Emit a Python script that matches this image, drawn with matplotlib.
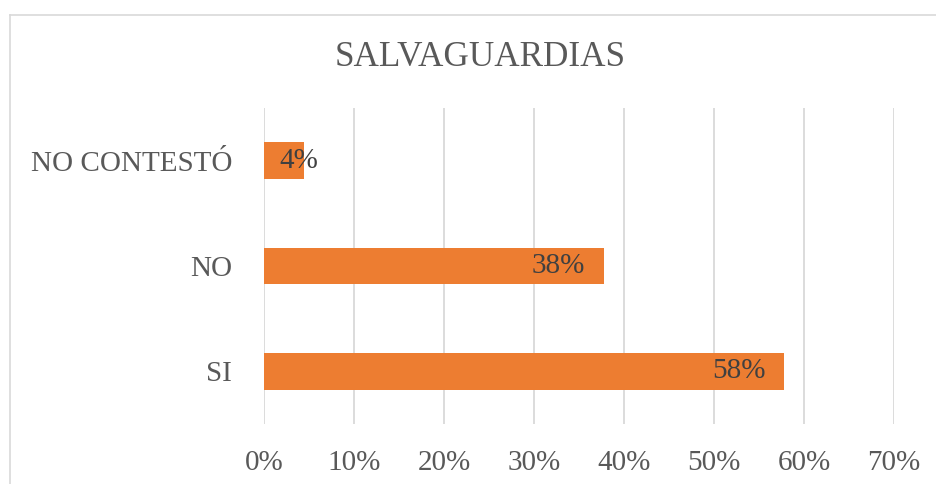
import matplotlib.pyplot as plt
from matplotlib.lines import Line2D
from matplotlib.ticker import PercentFormatter

categories = ['SI', 'NO', 'NO CONTESTÓ']
values = [0.578, 0.378, 0.044]
labels = ['58%', '38%', '4%']
xticks = [0, 0.1, 0.2, 0.3, 0.4, 0.5, 0.6, 0.7]

plt.rcParams['font.family'] = ['Liberation Serif', 'DejaVu Serif']

W, H = 937, 484
fig = plt.figure(figsize=(W / 100, H / 100), dpi=100)

# chart border (only left and top visible in the crop)
fig.add_artist(Line2D([10 / W, 10 / W], [0, 1 - 15 / H], color='#d9d9d9', lw=1.2))
fig.add_artist(Line2D([10 / W, 1], [1 - 15 / H, 1 - 15 / H], color='#d9d9d9', lw=1.2))

ax = fig.add_axes([264 / W, 60 / H, 630 / W, 316 / H])
y = range(len(categories))
ax.barh(y, values, height=0.35, color='#ED7D31')

for i, (v, lab) in enumerate(zip(values, labels)):
    if v < 0.1:
        ax.annotate(lab, (0, i), xytext=(15, 0), textcoords='offset pixels',
                    ha='left', va='center', fontsize=21, color='#404040')
    else:
        ax.annotate(lab, (v, i), xytext=(-19, 0), textcoords='offset pixels',
                    ha='right', va='center', fontsize=21, color='#404040')

ax.set_xlim(0, 0.7)
ax.set_ylim(-0.5, len(categories) - 0.5)
ax.set_xticks(xticks)
ax.xaxis.set_major_formatter(PercentFormatter(1.0, decimals=0))
ax.set_yticks(list(y))
ax.set_yticklabels(categories)
ax.tick_params(axis='both', length=0, labelsize=21, labelcolor='#595959')
ax.tick_params(axis='x', pad=19)
ax.tick_params(axis='y', pad=23)
ax.grid(axis='x', color='#d9d9d9', lw=1.3)
ax.set_axisbelow(True)
for s in ax.spines.values():
    s.set_visible(False)

fig.text(480 / W, 1 - 57 / H, 'SALVAGUARDIAS', ha='center', va='center',
         fontsize=25.3, color='#595959')

fig.savefig('out.png', dpi=100)
